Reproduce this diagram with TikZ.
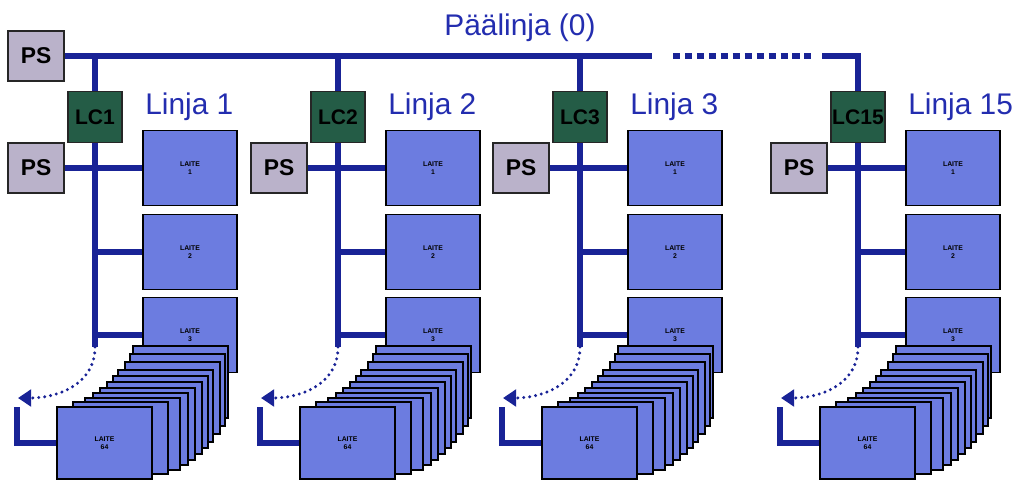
\documentclass[tikz,border=0pt]{standalone}
\usepackage{fontspec}
\setmainfont{Liberation Sans}
\usetikzlibrary{arrows.meta}

\definecolor{buscol}{RGB}{25,35,150}
\definecolor{laitecol}{RGB}{108,124,224}
\definecolor{psfill}{RGB}{186,178,202}
\definecolor{lcfill}{RGB}{36,92,70}
\definecolor{textblue}{RGB}{35,45,175}

\tikzset{
  bus/.style={draw=buscol, line width=2.9pt},
  busdots/.style={draw=buscol, line width=2.9pt, dash pattern=on 4pt off 2.8pt},
  curvedots/.style={draw=buscol, line width=1.9pt, line cap=round, dash pattern=on 0pt off 3.4pt,
    -{Triangle[length=7.5pt,width=9.5pt,fill=buscol]}},
  psbox/.style={draw=black!85, fill=psfill, line width=0.8pt, inner sep=0,
    minimum width=1.12cm, minimum height=1cm, font=\bfseries\fontsize{13}{13}\selectfont},
  lcbox/.style={draw=black!85, fill=lcfill, line width=0.8pt, inner sep=0,
    minimum width=1.08cm, minimum height=1.02cm, font=\bfseries\fontsize{12}{12}\selectfont},
  laite/.style={draw=black, fill=laitecol, line width=0.9pt, inner sep=0, align=center,
    minimum width=1.88cm, minimum height=1.5cm, font=\bfseries\fontsize{3.9}{4.8}\selectfont},
  stackbox/.style={laite, minimum width=1.9cm, minimum height=1.44cm},
  linja/.style={text=textblue, inner sep=0, font=\fontsize{17}{17}\selectfont},
}

\begin{document}
\begin{tikzpicture}[x=0.02cm,y=-0.02cm]
\useasboundingbox (0,0) rectangle (1018,481);

% paalinja
\node[psbox] (ps0) at (36,56) {PS};
\node[linja] (paa) at (520,28) {Päälinja (0)};
\coordinate (m1) at (652,56);
\coordinate (d1) at (673,56);
\coordinate (d2) at (815,56);
\coordinate (m2) at (822,56);
\draw[bus] (ps0.east) -- (m1);
\draw[busdots] (d1) -- (d2);

\foreach \X/\n in {95/1,338/2,580/3,858/15}{
  \coordinate (t\n) at (\X,56);
  \node[lcbox] (lc\n) at (\X,117) {LC\n};
  \node[linja,anchor=west] (lab\n) at (\X+50,107) {Linja \n};
  \node[psbox] (ps\n) at (\X-59,168) {PS};
  \node[laite] (la1\n) at (\X+95,168) {LAITE\\1};
  \node[laite] (la2\n) at (\X+95,252) {LAITE\\2};
  \node[laite] (la3\n) at (\X+95,335) {LAITE\\3};
  \coordinate (b\n) at (\X,347);
  \coordinate (a\n) at (\X-77,398);
  \coordinate (c\n) at (\X-78,407);
  % pino
  \foreach \dx/\dy in {38/346,35/354,30/362,23/370,18/376,12/382,5/388,-2/393,-10/398,-22/402}
    \node[stackbox] at (\X+\dx+47.5,\dy+36) {};
  \node[stackbox] (la64\n) at (\X+9.5,443) {LAITE\\64};
  % johdot
  \draw[bus] (lc\n.south) -- (b\n);
  \draw[bus] (ps\n.east) -- (la1\n.west);
  \draw[bus] (la2\n.west -| lc\n) -- (la2\n.west);
  \draw[bus] (la3\n.west -| lc\n) -- (la3\n.west);
  \draw[curvedots] (b\n) .. controls (\X,386) and (\X-40,398) .. (a\n);
  \draw[bus] (c\n) |- (la64\n.west);
}

\draw[bus] (t1) -- (lc1.north);
\draw[bus] (t2) -- (lc2.north);
\draw[bus] (t3) -- (lc3.north);
\draw[bus] (m2) -- (t15) -- (lc15.north);
\end{tikzpicture}
\end{document}
